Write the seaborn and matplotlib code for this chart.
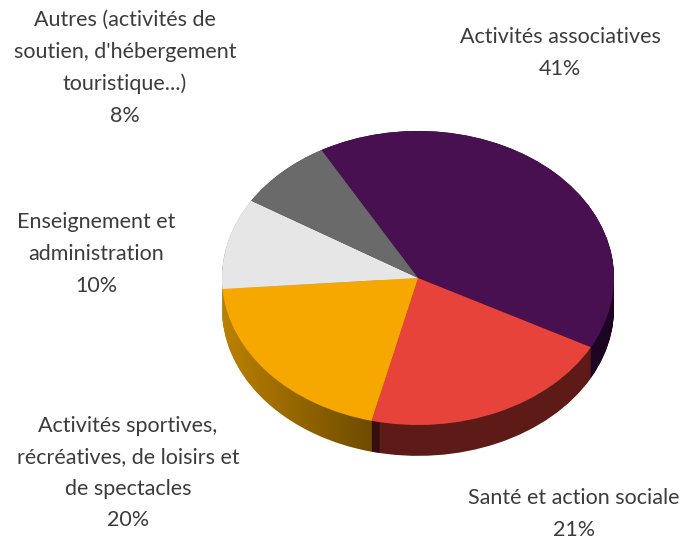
import numpy as np
import seaborn as sns
import matplotlib.pyplot as plt
from matplotlib.patches import Polygon

# Répartition des activités (%)
categories = [
    "Activités associatives",
    "Santé et action sociale",
    "Activités sportives,\nrécréatives, de loisirs et\nde spectacles",
    "Enseignement et\nadministration",
    "Autres (activités de\nsoutien, d'hébergement\ntouristique...)",
]
values = [41, 21, 20, 10, 8]
top_colors = ["#481050", "#e8433a", "#f6a800", "#e6e6e6", "#6a6a6a"]
side_colors = ["#1c0422", "#5e1a17", "#c08400", "#a8a8a8", "#3a3a3a"]

sns.set_theme(style="white")
plt.rcParams["font.family"] = ["Lato", "DejaVu Sans"]

W, H = 687, 539
fig = plt.figure(figsize=(W / 100, H / 100), dpi=100)

# pie centre / radii in pixels
cx, cy, rx, ry = 418, 278, 196, 147
x0, x1, y0, y1 = -1.1, 1.1, -1.4, 1.1
ax = fig.add_axes([(cx + rx * x0) / W, (H - cy + ry * y0) / H,
                   rx * (x1 - x0) / W, ry * (y1 - y0) / H])

start = 119.5
depth = 0.21
wp = dict(linewidth=0, antialiased=True)
# side of the 3D disc: stacked darker pies
for off in np.linspace(-depth, 0, 40):
    ax.pie(values, colors=side_colors, startangle=start, counterclock=False,
           center=(0, off), radius=1, wedgeprops=wp)

# light-to-dark shading across the side (light from the left)
t = np.linspace(0, 2 * np.pi, 200)
side_path = np.column_stack([np.cos(t), np.sin(t) - depth * (np.sin(t) < 0)])
clip = Polygon(side_path, closed=True, transform=ax.transData, facecolor="none", edgecolor="none")
ax.add_patch(clip)
gx = np.linspace(-1.05, 1.05, 300)
alpha = np.where(gx < -0.2, 0.45 * (gx + 1.05) / 0.85, 0.0)
shade = np.zeros((1, gx.size, 4))
shade[0, :, 3] = alpha
img = ax.imshow(shade, extent=(-1.05, 1.05, -1.3, 0.2), aspect="auto", zorder=1.5,
                interpolation="bilinear")
img.set_clip_path(clip)

# top face
wedges, _ = ax.pie(values, colors=top_colors, startangle=start, counterclock=False,
                   center=(0, 0), radius=1, wedgeprops=wp)
for w in wedges:
    w.set_zorder(2)
ax.set_aspect("auto")
ax.set_xlim(x0, x1)
ax.set_ylim(y0, y1)
ax.axis("off")

# label positions (pixels, centre of the text block)
label_pos = [(560, 53), (574, 514), (128, 473), (96, 254), (125, 68)]
for cat, v, (px, py) in zip(categories, values, label_pos):
    fig.text(px / W, 1 - py / H, f"{cat}\n{v}%", ha="center", va="center",
             fontsize=15.5, color="#3c3c3c", linespacing=1.72)

fig.savefig("out.png", dpi=100)
